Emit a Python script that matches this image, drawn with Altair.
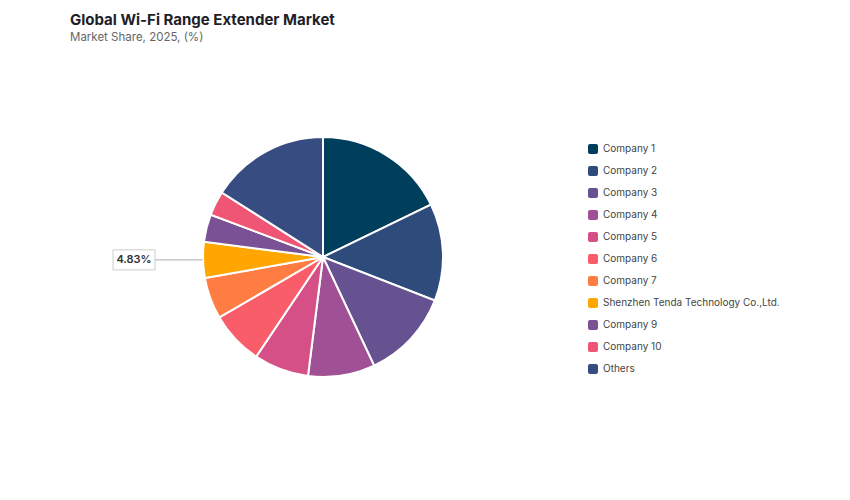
import altair as alt
import pandas as pd

companies = [
    "Company 1", "Company 2", "Company 3", "Company 4", "Company 5",
    "Company 6", "Company 7", "Shenzhen Tenda Technology Co.,Ltd.",
    "Company 9", "Company 10", "Others",
]
shares = [17.8, 13.1, 12.1, 9.0, 7.4, 7.2, 5.6, 4.83, 3.7, 3.3, 15.97]
colors = [
    "#003f5c", "#2f4b7c", "#665191", "#a05195", "#d45087",
    "#f95d6a", "#ff7c43", "#ffa600", "#7a5195", "#ef5675", "#374c80",
]
highlight = "Shenzhen Tenda Technology Co.,Ltd."

df = pd.DataFrame({
    "company": companies,
    "share": shares,
    "rank": list(range(len(companies))),
})

# pie centre / radius in plot coordinates
CX, CY, R = 253, 204, 120

rounded_square = (
    "M-1,-0.6 A0.4,0.4 0 0 1 -0.6,-1 L0.6,-1 A0.4,0.4 0 0 1 1,-0.6 "
    "L1,0.6 A0.4,0.4 0 0 1 0.6,1 L-0.6,1 A0.4,0.4 0 0 1 -1,0.6 Z"
)

base = alt.Chart(df)

pie = base.mark_arc(radius=R, stroke="white", strokeWidth=2).encode(
    theta=alt.Theta("share:Q", stack=True),
    order=alt.Order("rank:Q"),
    color=alt.Color(
        "company:N",
        scale=alt.Scale(domain=companies, range=colors),
        legend=alt.Legend(
            title=None,
            orient="none",
            legendX=518,
            legendY=91,
            symbolType=rounded_square,
            symbolSize=100,
            symbolStrokeWidth=0,
            labelFontSize=10,
            labelColor="#444",
            labelOffset=5,
            rowPadding=12,
            labelLimit=300,
        ),
    ),
    x=alt.value(CX),
    y=alt.value(CY),
)

callout = (
    base
    .transform_window(
        cum="sum(share)",
        sort=[alt.SortField("rank", order="ascending")],
        frame=[None, 0],
    )
    .transform_joinaggregate(total="sum(share)")
    .transform_calculate(
        mid="(datum.cum - datum.share / 2) / datum.total * 2 * PI",
        px=f"{CX} + {R} * sin(datum.mid)",
        py=f"{CY} - {R} * cos(datum.mid)",
        bx2="datum.px - 48",
        bx1="datum.px - 90",
        bxc="datum.px - 69",
        by1="datum.py - 10",
        by2="datum.py + 10",
        label="format(datum.share, '.2f') + '%'",
    )
    .transform_filter(alt.datum.company == highlight)
)

leader = callout.mark_rule(color="#aaaaaa", strokeWidth=1).encode(
    x=alt.X("bx2:Q", scale=None, axis=None),
    x2="px:Q",
    y=alt.Y("py:Q", scale=None, axis=None),
)

box = callout.mark_rect(fill="white", stroke="#cccccc", strokeWidth=1).encode(
    x=alt.X("bx1:Q", scale=None, axis=None),
    x2="bx2:Q",
    y=alt.Y("by1:Q", scale=None, axis=None),
    y2="by2:Q",
)

label = callout.mark_text(fontSize=11, fontWeight=600, color="#333333").encode(
    x=alt.X("bxc:Q", scale=None, axis=None),
    y=alt.Y("py:Q", scale=None, axis=None),
    text="label:N",
)

chart = (
    alt.layer(pie, leader, box, label)
    .properties(
        width=760,
        height=420,
        padding={"left": 62, "top": 4, "right": 0, "bottom": 0},
        title=alt.TitleParams(
            text="Global Wi-Fi Range Extender Market",
            subtitle="Market Share, 2025, (%)",
            anchor="start",
            frame="group",
            fontSize=15,
            fontWeight=700,
            color="#1e1e28",
            subtitleFontSize=11.5,
            subtitleColor="#666666",
            subtitlePadding=4,
            offset=10,
        ),
    )
    .configure(font="Inter")
    .configure_view(stroke=None)
)

chart.save("out.html", embed_options={"renderer": "svg", "actions": False})
